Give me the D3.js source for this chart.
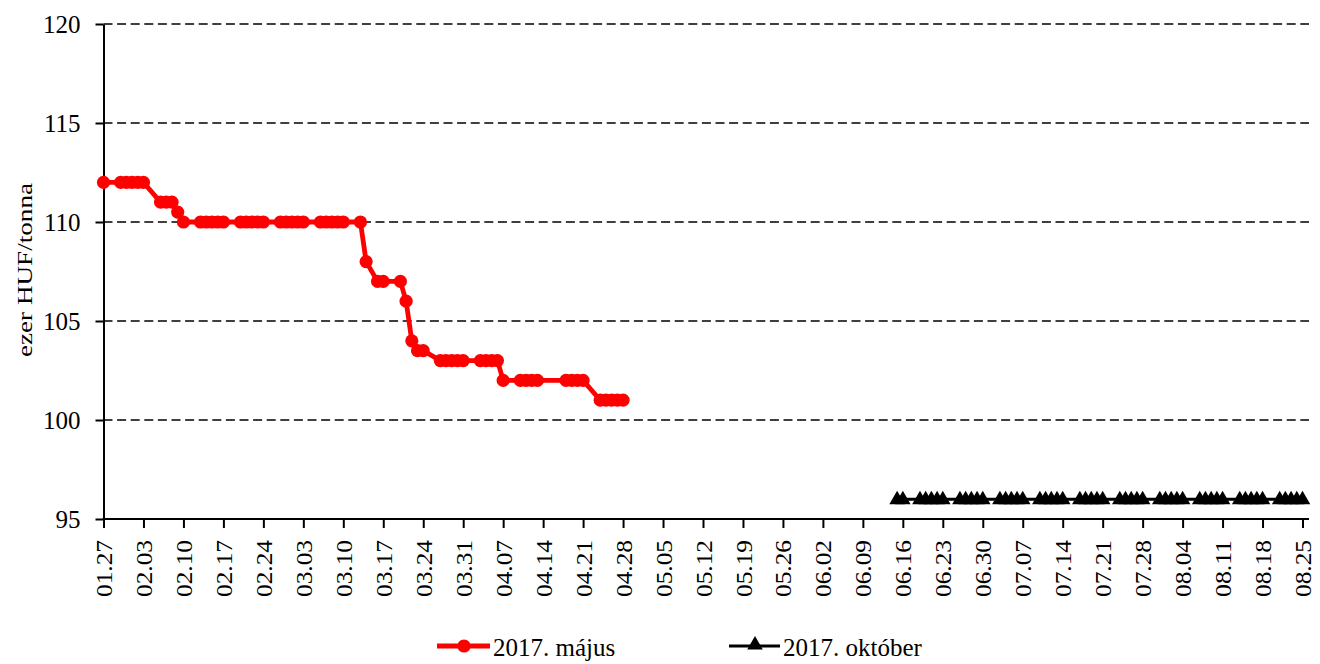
<!DOCTYPE html>
<html>
<head>
<meta charset="utf-8">
<script src="https://cdn.jsdelivr.net/npm/d3@7"></script>
<style>
body{margin:0;background:#fff;}
text{font-family:"Liberation Serif","Times New Roman",serif;fill:#000;}
</style>
</head>
<body>
<script>
// 2017. május series (business days)
var majusDates = ["01.27","01.30","01.31","02.01","02.02","02.03","02.06","02.07","02.08","02.09",
  "02.10","02.13","02.14","02.15","02.16","02.17","02.20","02.21","02.22","02.23","02.24",
  "02.27","02.28","03.01","03.02","03.03","03.06","03.07","03.08","03.09","03.10","03.13","03.14",
  "03.16","03.17","03.20","03.21","03.22","03.23","03.24","03.27","03.28","03.29","03.30","03.31",
  "04.03","04.04","04.05","04.06","04.07","04.10","04.11","04.12","04.13","04.18","04.19","04.20","04.21",
  "04.24","04.25","04.26","04.27","04.28"];
var majusValues = [112,112,112,112,112,112,111,111,111,110.5,
  110,110,110,110,110,110,110,110,110,110,110,
  110,110,110,110,110,110,110,110,110,110,110,108,
  107,107,107,106,104,103.5,103.5,103,103,103,103,103,
  103,103,103,103,102,102,102,102,102,102,102,102,102,
  101,101,101,101,101];

// 2017. október series
var oktoberDates = ["06.15","06.16","06.19","06.20","06.21","06.22","06.23","06.26","06.27","06.28","06.29","06.30",
  "07.03","07.04","07.05","07.06","07.07","07.10","07.11","07.12","07.13","07.14",
  "07.17","07.18","07.19","07.20","07.21","07.24","07.25","07.26","07.27","07.28",
  "07.31","08.01","08.02","08.03","08.04","08.07","08.08","08.09","08.10","08.11",
  "08.14","08.15","08.16","08.17","08.18","08.21","08.22","08.23","08.24","08.25"];
var oktoberValues = [96,96,96,96,96,96,96,96,96,96,96,96,
  96,96,96,96,96,96,96,96,96,96,
  96,96,96,96,96,96,96,96,96,96,
  96,96,96,96,96,96,96,96,96,96,
  96,96,96,96,96,96,96,96,96,96];

var tickDates = ["01.27","02.03","02.10","02.17","02.24","03.03","03.10","03.17","03.24","03.31",
  "04.07","04.14","04.21","04.28","05.05","05.12","05.19","05.26","06.02","06.09",
  "06.16","06.23","06.30","07.07","07.14","07.21","07.28","08.04","08.11","08.18","08.25"];
var yTicks = [95,100,105,110,115,120];
var seriesNames = ["2017. május","2017. október"];

var parse = function(s){ return d3.timeParse("%Y.%m.%d")("2017."+s); };

var svgwidth = 1320, svgheight = 664;
var margins = {top:24, bottom:145, left:103.5, right:17.5};
var plotRight = 1309;

var xscale = d3.scaleTime()
  .domain([parse(tickDates[0]), parse(tickDates[tickDates.length-1])])
  .range([margins.left, svgwidth - margins.right]);

var yscale = d3.scaleLinear()
  .domain([95,120])
  .range([svgheight - margins.bottom, margins.top]);

var svg = d3.select("body").append("svg")
  .attr("width", svgwidth)
  .attr("height", svgheight);

// gridlines
svg.selectAll(".grid")
  .data(yTicks.filter(function(d){ return d > 95; }))
  .enter()
  .append("line")
  .attr("x1", margins.left)
  .attr("x2", plotRight)
  .attr("y1", function(d){ return yscale(d); })
  .attr("y2", function(d){ return yscale(d); })
  .attr("stroke", "#000")
  .attr("stroke-width", 1.7)
  .attr("stroke-dasharray", "9,4.6");

// y axis
var yaxis = svg.append("g")
  .attr("transform", "translate(" + margins.left + ",0)")
  .call(d3.axisLeft(yscale).tickValues(yTicks).tickSize(8).tickSizeOuter(0).tickPadding(15));
yaxis.select(".domain").attr("stroke-width", 2);
yaxis.selectAll(".tick line").attr("stroke-width", 2);
yaxis.selectAll("text").style("font-size", "25px").style("font-family", "Liberation Serif");

// x axis
var xaxis = svg.append("g")
  .attr("transform", "translate(0," + yscale(95) + ")")
  .call(d3.axisBottom(xscale)
    .tickValues(tickDates.map(parse))
    .tickSize(9)
    .tickSizeOuter(0)
    .tickFormat(d3.timeFormat("%m.%d")));
xaxis.select(".domain").remove();
xaxis.selectAll(".tick line").attr("stroke-width", 2);
xaxis.selectAll("text")
  .attr("transform", "rotate(-90)")
  .attr("x", -21)
  .attr("y", 0)
  .attr("dy", "0.35em")
  .attr("textLength", 57)
  .attr("lengthAdjust", "spacingAndGlyphs")
  .style("text-anchor", "end")
  .style("font-size", "23px")
  .style("font-family", "Liberation Serif");
xaxis.append("line")
  .attr("x1", margins.left - 1)
  .attr("x2", plotRight)
  .attr("y1", 0)
  .attr("y2", 0)
  .attr("stroke", "#000")
  .attr("stroke-width", 2.2);

// y axis title
svg.append("text")
  .attr("transform", "translate(32,270) rotate(-90)")
  .attr("text-anchor", "middle")
  .attr("textLength", 174)
  .attr("lengthAdjust", "spacingAndGlyphs")
  .style("font-size", "21px")
  .text("ezer HUF/tonna");

var line = d3.line()
  .x(function(d){ return xscale(d.date); })
  .y(function(d){ return yscale(d.value); });

var majus = majusDates.map(function(d,i){ return {date: parse(d), value: majusValues[i]}; });
var oktober = oktoberDates.map(function(d,i){ return {date: parse(d), value: oktoberValues[i]}; });

// október
svg.append("path")
  .datum(oktober)
  .attr("d", line)
  .attr("fill", "none")
  .attr("stroke", "#000")
  .attr("stroke-width", 3);

var tri = d3.symbol().type(d3.symbolTriangle).size(105);
svg.selectAll(".tri")
  .data(oktober)
  .enter()
  .append("path")
  .attr("d", tri)
  .attr("transform", function(d){ return "translate(" + xscale(d.date) + "," + (yscale(d.value) + 0.5) + ")"; })
  .attr("fill", "#000");

// május
svg.append("path")
  .datum(majus)
  .attr("d", line)
  .attr("fill", "none")
  .attr("stroke", "#ff0000")
  .attr("stroke-width", 4.8)
  .attr("stroke-linejoin", "round");

svg.selectAll(".dot")
  .data(majus)
  .enter()
  .append("circle")
  .attr("cx", function(d){ return xscale(d.date); })
  .attr("cy", function(d){ return yscale(d.value); })
  .attr("r", 6.6)
  .attr("fill", "#ff0000");

// legend
var legendY = 646;
svg.append("line")
  .attr("x1", 437).attr("x2", 490)
  .attr("y1", legendY).attr("y2", legendY)
  .attr("stroke", "#ff0000").attr("stroke-width", 4.8);
svg.append("circle")
  .attr("cx", 464).attr("cy", legendY).attr("r", 6.6)
  .attr("fill", "#ff0000");
svg.append("text")
  .attr("x", 493).attr("y", 656)
  .style("font-size", "25px")
  .text(seriesNames[0]);

svg.append("line")
  .attr("x1", 729).attr("x2", 780)
  .attr("y1", legendY).attr("y2", legendY)
  .attr("stroke", "#000").attr("stroke-width", 3);
svg.append("path")
  .attr("d", tri)
  .attr("transform", "translate(755," + (legendY - 1) + ")")
  .attr("fill", "#000");
svg.append("text")
  .attr("x", 783).attr("y", 656)
  .style("font-size", "25px")
  .text(seriesNames[1]);
</script>
</body>
</html>
